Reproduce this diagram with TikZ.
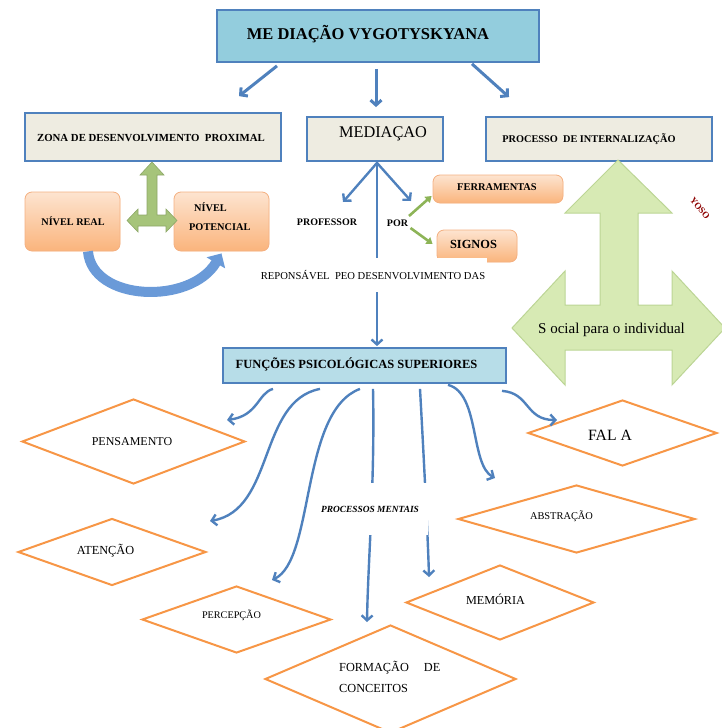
\documentclass[tikz,border=0pt]{standalone}
\usepackage{fontspec}
\setmainfont{Liberation Serif}
\usetikzlibrary{arrows.meta,shapes.geometric,calc}
\definecolor{bblue}{HTML}{4F81BD}
\definecolor{titlefill}{HTML}{93CDDD}
\definecolor{funcfill}{HTML}{B7DDE8}
\definecolor{grayfill}{HTML}{EEECE1}
\definecolor{ortop}{HTML}{FDE4D0}
\definecolor{orbot}{HTML}{FAB47C}
\definecolor{orbord}{HTML}{F4B183}
\definecolor{dorange}{HTML}{F79646}
\definecolor{gfill}{HTML}{D7EAB4}
\definecolor{gline}{HTML}{BCD595}
\definecolor{teefill}{HTML}{A6C47A}
\definecolor{gcon}{HTML}{8DB457}
\definecolor{curveblue}{HTML}{6A9AD8}
\newcommand\fz[1]{\fontsize{#1}{#1}\selectfont}
\begin{document}
\begin{tikzpicture}[x=1pt,y=-1pt,
  blbox/.style={draw=bblue, line width=1.8pt, inner sep=0pt},
  orbox/.style={draw=orbord, line width=0.8pt, rounded corners=7pt, fill=orbot, inner sep=0pt,
    path picture={\shade[top color=ortop, bottom color=orbot] (path picture bounding box.south west) rectangle (path picture bounding box.north east);}},
  dia/.style={diamond, draw=dorange, line width=2pt, fill=white, inner sep=0pt},
  blarrow/.style={draw=bblue, line width=2.4pt, -{Straight Barb[length=5pt,width=11pt]}},
  garrow/.style={draw=gcon, line width=2.6pt, -{Triangle[length=6pt,width=8pt]}},
  txt/.style={inner sep=0pt, text=black}
]
\useasboundingbox (0,0) rectangle (722,728);
\clip (0,0) rectangle (722,728);

% ---------- top level boxes ----------
\node[blbox, fill=titlefill, minimum width=322pt, minimum height=52pt] (title) at (378,36) {};
\node[txt, font=\fz{16.5}\bfseries] (tTitle) at (368,34) {ME DIAÇÃO VYGOTYSKYANA};

\node[blbox, fill=grayfill, minimum width=256pt, minimum height=48pt] (zdp) at (153,137) {};
\node[txt, font=\fz{10.8}\bfseries] (tZdp) at (151,138) {ZONA DE DESENVOLVIMENTO\ \ PROXIMAL};

\node[blbox, fill=grayfill, minimum width=136pt, minimum height=44pt] (med) at (375,139) {};
\node[txt, font=\fz{16.3}] (tMed) at (383,134) {MEDIAÇAO};

\node[blbox, fill=grayfill, minimum width=226pt, minimum height=44pt] (proc) at (599,139) {};
\node[txt, font=\fz{10.3}\bfseries] (tProc) at (589,139) {PROCESSO\ \ DE INTERNALIZAÇÃO};

% arrows from title
\draw[blarrow, line width=3pt] ($(title.south)+(-101,3)$) -- ($(zdp.north)+(86,-16)$);
\draw[blarrow, line width=3pt] ($(title.south)+(-2,6)$) -- ($(med.north)+(1,-9)$);
\draw[blarrow, line width=3pt] ($(title.south)+(94,1)$) -- ($(proc.north)+(-90,-19)$);

% ---------- ZDP part ----------
\node[orbox, minimum width=95pt, minimum height=59pt] (nreal) at (72.5,221.5) {};
\node[txt, font=\fz{10.2}\bfseries] (tReal) at (73,221) {NÍVEL REAL};
\node[orbox, minimum width=95pt, minimum height=59pt] (npot) at (221.5,221.5) {};
\node[txt, font=\fz{10.3}\bfseries, anchor=west] (tPot1) at (194,207) {NÍVEL};
\node[txt, font=\fz{10.3}\bfseries, anchor=west] (tPot2) at (189,227) {POTENCIAL};

% green tee arrow (left-right-up)
\draw[draw=teefill!85!black, line width=0.6pt, fill=teefill]
  (152,162) -- (164,175) -- (157,175) -- (157,215) -- (166,215) -- (166,209) -- (177,220.5)
  -- (166,232) -- (166,226) -- (138,226) -- (138,232) -- (127,220.5) -- (138,209)
  -- (138,215) -- (147,215) -- (147,175) -- (140,175) -- cycle;

% blue curved arrow
\draw[curveblue, line width=10pt, -{Triangle[length=11pt,width=21pt]}]
  ($(nreal.south)+(15.5,0)$) .. controls +(4,50) and +(-31,52) .. ($(npot.south)+(0,2)$);

% ---------- Mediação part ----------
\node[orbox, minimum width=130pt, minimum height=28pt] (ferr) at (498,189) {};
\node[txt, font=\fz{10.4}\bfseries] (tFerr) at (497,187.5) {FERRAMENTAS};
\node[orbox, minimum width=80pt, minimum height=32pt] (sig) at (477,246) {};
\node[txt, font=\fz{12.4}\bfseries] (tSig) at (473.5,244.5) {SIGNOS};

\node[txt, font=\fz{10}\bfseries] (prof) at (327,222) {PROFESSOR};
\node[txt, font=\fz{10}\bfseries] (por) at (397.5,223) {POR};

\node[blbox, fill=funcfill, minimum width=283pt, minimum height=35pt] (func) at (364.5,365.5) {};
\node[txt, font=\fz{12.5}\bfseries] (tFunc) at (356.5,364) {FUNÇÕES PSICOLÓGICAS SUPERIORES};

\draw[blarrow] ($(med.south)+(2,0)$) -- ($(func.north)+(12.5,-1)$);
\draw[blarrow] ($(med.south)+(2,1)$) -- ($(prof.center)+(16,-20)$);
\draw[blarrow] ($(med.south)+(2,1)$) -- ($(por.center)+(13.5,-22)$);
\node[txt, fill=white, font=\fz{10.6}, minimum height=34pt, inner xsep=2pt] (resp) at (373,275) {REPONSÁVEL\ \ PEO DESENVOLVIMENTO DAS};

\draw[garrow] ($(por.center)+(11.5,-7)$) -- ($(ferr.west)+(-1,7)$);
\draw[garrow] ($(por.center)+(13,5)$) -- ($(sig.west)+(-4,-2)$);

% ---------- Internalização ----------
\draw[draw=gline, line width=1pt, fill=gfill]
  (618,160) -- (672,213) -- (638,213) -- (638,305) -- (672,305) -- (672,271) -- (725,328)
  -- (672,385) -- (672,350) -- (565,350) -- (565,385) -- (512,328) -- (565,271)
  -- (565,305) -- (600,305) -- (600,213) -- (565,213) -- cycle;
\node[txt, font=\fz{15}] (tSocial) at (611.5,330) {S ocial para o individual};
\node[txt, rotate=-50, font=\fz{9}\bfseries, text=red!55!black] (frag) at (700,208) {YOSO};

% ---------- diamonds ----------
\node[dia, minimum width=223pt, minimum height=85pt] (pens) at (133.5,441.5) {};
\node[txt, font=\fz{12}] (tPens) at (132,442) {PENSAMENTO};
\node[dia, minimum width=189pt, minimum height=66pt] (fala) at (622.5,433) {};
\node[txt, font=\fz{15.7}] (tFala) at (610,435) {FAL A};
\node[dia, minimum width=237pt, minimum height=68pt] (abst) at (576.5,519) {};
\node[txt, font=\fz{10.4}] (tAbst) at (561.5,516) {ABSTRAÇÃO};
\node[dia, minimum width=188pt, minimum height=67pt] (aten) at (112,552) {};
\node[txt, font=\fz{12.3}] (tAten) at (105.5,551) {ATENÇÃO};
\node[dia, minimum width=189pt, minimum height=67pt] (perc) at (236.5,619.5) {};
\node[txt, font=\fz{10.2}] (tPerc) at (231.5,615.5) {PERCEPÇÃO};
\node[dia, minimum width=188pt, minimum height=75pt] (memo) at (500,602.5) {};
\node[txt, font=\fz{12.2}] (tMemo) at (495.5,599.5) {MEMÓRIA};
\node[dia, minimum width=251pt, minimum height=108pt] (form) at (390.5,679) {};
\node[txt, font=\fz{12.3}, anchor=west] (tForm1) at (339,668) {FORMAÇÃO\hspace{15pt}DE};
\node[txt, font=\fz{12.3}, anchor=west] (tForm2) at (339,688) {CONCEITOS};

% ---------- curved connectors from Funções ----------
\draw[blarrow] ($(func.south)+(-91.5,5)$) .. controls +(-15,4) and +(31,-4) .. ($(pens.center)+(93.5,-21.5)$);
\draw[blarrow] ($(func.south)+(-44.5,5)$) .. controls +(-62,12) and +(65,-11) .. ($(aten.center)+(98,-31)$);
\draw[blarrow] ($(func.south)+(-4.5,5)$) .. controls +(-60,22) and +(43,-20) .. ($(perc.center)+(35.5,-39.5)$);
\draw[blarrow] ($(func.south)+(8.5,5)$) .. controls +(2,92) and +(1,-62) .. ($(form.center)+(-23.5,-57)$);
\draw[blarrow] ($(func.south)+(55.5,5)$) .. controls +(4,72) and +(-1,-37) .. ($(memo.center)+(-71,-25.5)$);
\draw[blarrow] ($(func.south)+(83.5,1)$) .. controls +(32,8) and +(-25,-13) .. ($(abst.center)+(-81.5,-41)$);
\draw[blarrow] ($(func.south)+(137.5,7)$) .. controls +(28,2) and +(-32,0) .. ($(fala.center)+(-65.5,-13)$);

\node[txt, fill=white, font=\fz{9.4}\bfseries\itshape, minimum width=116pt, minimum height=52pt] (pm) at (370,509) {PROCESSOS MENTAIS};
\end{tikzpicture}
\end{document}
